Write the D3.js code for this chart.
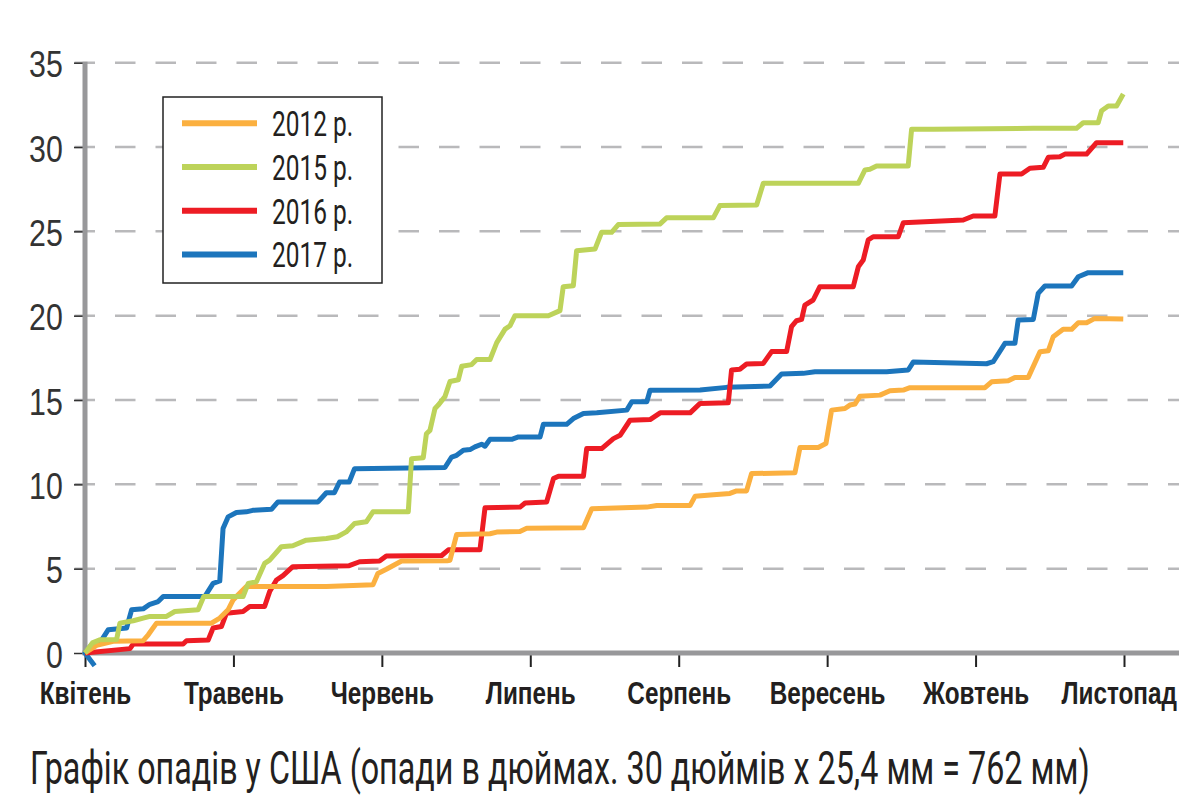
<!DOCTYPE html>
<html>
<head>
<meta charset="utf-8">
<script src="https://cdn.jsdelivr.net/npm/d3@7"></script>
<style>
  html, body { margin: 0; padding: 0; background: #fff; }
  svg { display: block; font-family: Roboto, "Open Sans", sans-serif; }
</style>
</head>
<body>
<div id="chart"></div>
<script>
// month labels (x = months since 1 April)
const months = ["Квітень", "Травень", "Червень", "Липень", "Серпень", "Вересень", "Жовтень", "Листопад"];
const yTicks = [0, 5, 10, 15, 20, 25, 30, 35];
const seriesNames = ["2012 р.", "2015 р.", "2016 р.", "2017 р."];
const seriesColors = ["#fbb040", "#bdd35a", "#ed1c24", "#1c75bc"];

// cumulative precipitation, inches: [month position, value]
const rain2012 = [[0,0],[0.078,0.45],[0.19,0.69],[0.392,0.73],[0.426,1.08],[0.482,1.77],[0.852,1.77],[0.908,2.07],[0.964,2.56],[0.998,3.15],[1.087,3.94],[1.626,3.94],[1.94,4.04],[1.973,4.72],[2.03,4.97],[2.077,5.19],[2.133,5.45],[2.44,5.47],[2.459,5.5],[2.504,7.03],[2.729,7.07],[2.774,7.17],[2.93,7.21],[2.976,7.4],[3.358,7.42],[3.414,8.55],[3.785,8.65],[3.852,8.75],[4.077,8.75],[4.11,9.29],[4.234,9.38],[4.345,9.46],[4.39,9.61],[4.457,9.61],[4.491,10.64],[4.783,10.68],[4.817,12.19],[4.94,12.19],[4.992,12.42],[5.03,14.4],[5.12,14.5],[5.153,14.7],[5.187,14.76],[5.221,15.23],[5.356,15.29],[5.423,15.55],[5.513,15.59],[5.558,15.73],[6.063,15.73],[6.108,16.08],[6.22,16.14],[6.265,16.34],[6.355,16.34],[6.434,17.86],[6.49,17.92],[6.523,18.75],[6.59,19.19],[6.647,19.19],[6.692,19.58],[6.748,19.58],[6.804,19.84],[6.995,19.8]];

const rain2015 = [[0,0],[0.05,0.6],[0.10,0.79],[0.213,0.8],[0.235,1.77],[0.325,1.91],[0.392,2.07],[0.437,2.17],[0.549,2.17],[0.605,2.46],[0.762,2.56],[0.80,3.35],[1.065,3.35],[1.10,4.13],[1.155,4.23],[1.21,5.31],[1.244,5.51],[1.323,6.3],[1.40,6.36],[1.49,6.69],[1.626,6.79],[1.70,6.89],[1.76,7.18],[1.816,7.68],[1.895,7.78],[1.94,8.37],[2.178,8.37],[2.20,11.52],[2.279,11.58],[2.30,13.0],[2.324,13.2],[2.358,14.5],[2.38,14.7],[2.425,15.2],[2.459,16.1],[2.515,16.2],[2.538,17.0],[2.605,17.1],[2.639,17.4],[2.729,17.4],[2.774,18.4],[2.83,19.2],[2.863,19.4],[2.897,20.0],[3.122,20.0],[3.20,20.3],[3.222,21.72],[3.29,21.78],[3.312,23.85],[3.436,23.95],[3.48,24.94],[3.548,24.94],[3.593,25.4],[3.873,25.43],[3.918,25.8],[4.233,25.8],[4.278,26.54],[4.525,26.56],[4.57,27.85],[5.21,27.85],[5.255,28.64],[5.288,28.68],[5.333,28.87],[5.546,28.87],[5.569,31.05],[5.715,31.05],[6.389,31.11],[6.68,31.11],[6.725,31.44],[6.826,31.44],[6.849,32.15],[6.894,32.43],[6.95,32.43],[6.995,33.14]];

const rain2016 = [[0,0],[0.303,0.26],[0.325,0.53],[0.661,0.53],[0.684,0.73],[0.83,0.77],[0.863,1.48],[0.919,1.57],[0.953,2.36],[1.065,2.46],[1.11,2.76],[1.21,2.76],[1.244,3.64],[1.29,4.33],[1.334,4.59],[1.40,5.12],[1.78,5.18],[1.85,5.41],[1.984,5.45],[2.03,5.75],[2.403,5.78],[2.448,6.12],[2.661,6.12],[2.695,8.61],[2.931,8.65],[2.965,8.89],[3.11,8.95],[3.156,10.34],[3.19,10.48],[3.358,10.48],[3.38,12.12],[3.481,12.12],[3.56,12.71],[3.605,12.91],[3.672,13.8],[3.807,13.84],[3.875,14.24],[4.077,14.24],[4.144,14.8],[4.334,14.84],[4.356,16.78],[4.412,16.82],[4.457,17.13],[4.57,17.17],[4.626,17.87],[4.727,17.87],[4.76,19.35],[4.794,19.7],[4.828,19.78],[4.85,20.63],[4.906,20.93],[4.951,21.72],[5.176,21.72],[5.21,22.9],[5.243,23.3],[5.277,24.49],[5.31,24.68],[5.479,24.68],[5.513,25.51],[5.917,25.67],[5.984,25.91],[6.13,25.91],[6.164,28.4],[6.31,28.4],[6.366,28.74],[6.456,28.8],[6.49,29.39],[6.568,29.43],[6.602,29.58],[6.748,29.58],[6.815,30.26],[6.995,30.26]];

const rain2017 = [[0.065,-0.75],[0,0],[0.045,0.5],[0.10,0.6],[0.157,1.38],[0.28,1.48],[0.314,2.56],[0.392,2.62],[0.437,2.89],[0.493,3.05],[0.527,3.35],[0.807,3.35],[0.863,4.13],[0.908,4.27],[0.930,7.38],[0.964,8.07],[1.02,8.33],[1.087,8.37],[1.13,8.46],[1.256,8.52],[1.30,8.96],[1.57,8.96],[1.626,9.5],[1.68,9.5],[1.715,10.14],[1.78,10.14],[1.816,10.93],[2.425,11.0],[2.47,11.62],[2.504,11.72],[2.549,12.02],[2.594,12.06],[2.627,12.22],[2.672,12.38],[2.695,12.26],[2.729,12.67],[2.875,12.67],[2.92,12.81],[3.066,12.81],[3.088,13.56],[3.245,13.56],[3.29,13.9],[3.358,14.2],[3.448,14.24],[3.65,14.4],[3.684,14.9],[3.785,14.9],[3.807,15.58],[4.144,15.6],[4.323,15.75],[4.615,15.83],[4.693,16.54],[4.839,16.58],[4.918,16.68],[5.401,16.68],[5.546,16.78],[5.58,17.25],[6.074,17.15],[6.119,17.27],[6.198,18.36],[6.265,18.36],[6.287,19.74],[6.389,19.78],[6.422,21.32],[6.467,21.76],[6.647,21.76],[6.692,22.31],[6.759,22.55],[6.995,22.55]];

const subtitle = "Графік опадів у США (опади в дюймах. 30 дюймів х 25,4 мм = 762 мм)";

const width = 1179;
const height = 796;

const svg = d3
  .select("#chart")
  .append("svg")
  .attr("width", width)
  .attr("height", height)
  .attr("viewBox", `0 0 ${width} ${height}`);

const x = d3.scaleLinear().domain([0, months.length - 1]).range([85, 1124]);
const y = d3.scaleLinear().domain([0, 35]).range([653, 62.7]);

// dashed gridlines
svg
  .append("g")
  .selectAll("line")
  .data(yTicks.filter((d) => d > 0))
  .enter()
  .append("line")
  .attr("x1", 74.5)
  .attr("x2", width)
  .attr("y1", (d) => y(d))
  .attr("y2", (d) => y(d))
  .attr("stroke", "#b9b9bb")
  .attr("stroke-width", 2.5)
  .attr("stroke-dasharray", "20.5,20");

// y axis
const yAxis = svg
  .append("g")
  .attr("transform", `translate(${x(0)},0)`)
  .call(d3.axisLeft(y).tickValues(yTicks).tickSize(11).tickPadding(0));

yAxis.select(".domain").remove();
yAxis.selectAll(".tick line").attr("stroke", "#333").attr("stroke-width", 1.5);
yAxis
  .selectAll(".tick text")
  .attr("x", -27)
  .attr("dy", null)
  .attr("y", 14)
  .attr("transform", "scale(0.82,1)")
  .style("font-size", "37px")
  .style("font-weight", 300)
  .attr("fill", "#333");

// x axis
const xAxis = svg
  .append("g")
  .attr("transform", `translate(0,${y(0)})`)
  .call(
    d3
      .axisBottom(x)
      .tickValues(d3.range(months.length))
      .tickFormat((i) => months[i])
      .tickSize(14)
  );

xAxis.select(".domain").remove();
xAxis.selectAll(".tick line").attr("stroke", "#222").attr("stroke-width", 2);
xAxis
  .selectAll(".tick text")
  .attr("y", 51)
  .attr("dy", null)
  .attr("transform", "scale(0.76,1)")
  .style("font-size", "32px")
  .style("font-weight", 700)
  .attr("fill", "#231f20");

// keep last month label inside the frame
xAxis.selectAll(".tick").each(function () {
  const t = d3.select(this).select("text");
  const box = this.getBBox();
  const ctm = this.getCTM();
  const right = ctm.e + box.x + box.width;
  if (right > width - 2) {
    const shift = (right - (width - 2)) / 0.76;
    t.attr("x", -shift);
  }
});

// thick gray axis bars
svg
  .append("line")
  .attr("x1", x(0))
  .attr("x2", x(0))
  .attr("y1", y(35) - 1)
  .attr("y2", y(0) + 2)
  .attr("stroke", "#98989a")
  .attr("stroke-width", 5);

svg
  .append("line")
  .attr("x1", x(0) - 2.5)
  .attr("x2", width)
  .attr("y1", y(0))
  .attr("y2", y(0))
  .attr("stroke", "#98989a")
  .attr("stroke-width", 5);

// series lines
const line = d3
  .line()
  .x((d) => x(d[0]))
  .y((d) => y(d[1]));

const series = [rain2012, rain2015, rain2016, rain2017];
const drawOrder = [3, 2, 0, 1];

svg
  .append("g")
  .selectAll("path")
  .data(drawOrder)
  .enter()
  .append("path")
  .attr("d", (i) => line(series[i]))
  .attr("fill", "none")
  .attr("stroke", (i) => seriesColors[i])
  .attr("stroke-width", 5)
  .attr("stroke-linejoin", "round");

// legend
const legend = svg.append("g");

legend
  .append("rect")
  .attr("x", 163)
  .attr("y", 97)
  .attr("width", 219)
  .attr("height", 186)
  .attr("fill", "#fff")
  .attr("stroke", "#222")
  .attr("stroke-width", 1.5);

const legendItems = legend
  .selectAll("g.item")
  .data(seriesNames)
  .enter()
  .append("g")
  .attr("class", "item")
  .attr("transform", (d, i) => `translate(182,${123.3 + i * 43.7})`);

legendItems
  .append("line")
  .attr("x1", 0)
  .attr("x2", 75)
  .attr("stroke", (d, i) => seriesColors[i])
  .attr("stroke-width", 6);

legendItems
  .append("text")
  .attr("transform", "translate(90,13) scale(0.7,1)")
  .style("font-size", "35px")
  .attr("fill", "#231f20")
  .text((d) => d);

// caption below chart
const caption = svg
  .append("text")
  .attr("x", 0)
  .attr("y", 0)
  .style("font-size", "47px")
  .attr("fill", "#231f20")
  .text(subtitle);

const capLen = caption.node().getComputedTextLength();
caption.attr("transform", `translate(30,784) scale(${1060 / capLen},1)`);
</script>
</body>
</html>
